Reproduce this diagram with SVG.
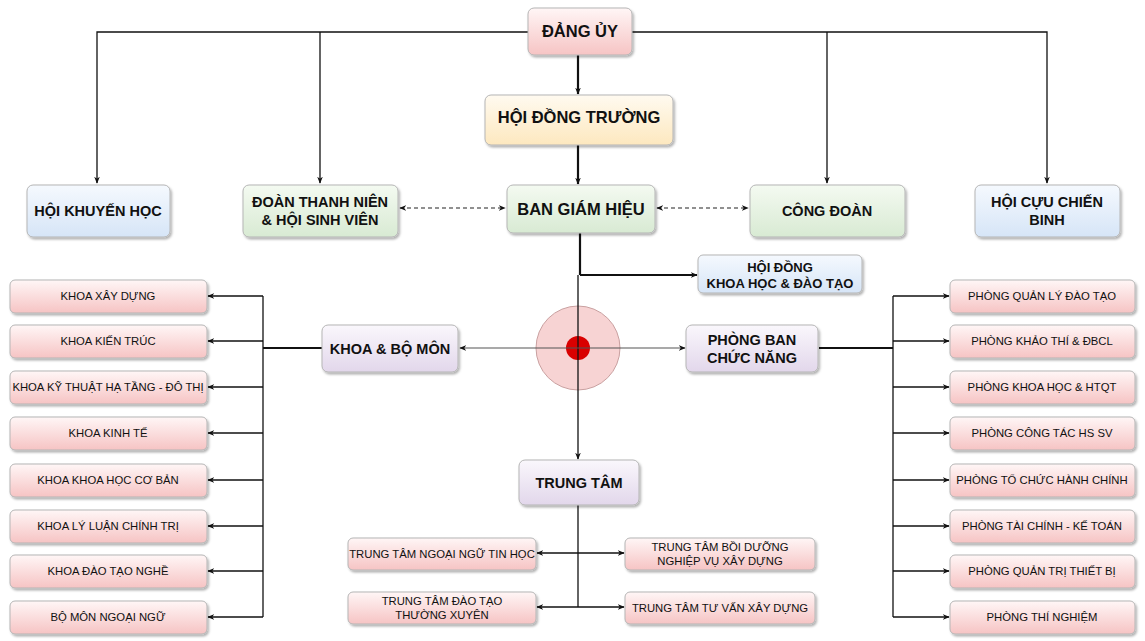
<svg xmlns="http://www.w3.org/2000/svg" width="1145" height="641" viewBox="0 0 1145 641">
<defs>
<linearGradient id="gPink" x1="0" y1="0" x2="0" y2="1"><stop offset="0" stop-color="#fff6f6"/><stop offset="1" stop-color="#f6c4c4"/></linearGradient>
<linearGradient id="gYel" x1="0" y1="0" x2="0" y2="1"><stop offset="0" stop-color="#fffaf0"/><stop offset="1" stop-color="#fde8bf"/></linearGradient>
<linearGradient id="gGrn" x1="0" y1="0" x2="0" y2="1"><stop offset="0" stop-color="#f4faf1"/><stop offset="1" stop-color="#d8ead3"/></linearGradient>
<linearGradient id="gBlu" x1="0" y1="0" x2="0" y2="1"><stop offset="0" stop-color="#f5f9fe"/><stop offset="1" stop-color="#d6e5f7"/></linearGradient>
<linearGradient id="gPur" x1="0" y1="0" x2="0" y2="1"><stop offset="0" stop-color="#faf7fc"/><stop offset="1" stop-color="#e2d7eb"/></linearGradient>
<filter id="sh" x="-10%" y="-10%" width="130%" height="140%"><feDropShadow dx="1.5" dy="2" stdDeviation="1.2" flood-color="#000" flood-opacity="0.3"/></filter>
<marker id="ar" viewBox="0 0 10 10" refX="9" refY="5" markerWidth="7" markerHeight="7" orient="auto-start-reverse" markerUnits="userSpaceOnUse"><path d="M0,1 L10,5 L0,9 L3,5 Z" fill="#111"/></marker>
</defs>
<style>
.box{stroke:#b5b5b5;stroke-width:1;filter:url(#sh)}
.pk{fill:url(#gPink)}.yl{fill:url(#gYel)}.gr{fill:url(#gGrn)}.bl{fill:url(#gBlu)}.pu{fill:url(#gPur)}
text{font-family:"Liberation Sans",Arial,sans-serif;fill:#111;text-anchor:middle;dominant-baseline:central}
.t1{font-size:16.5px;font-weight:bold}
.t2{font-size:14.5px;font-weight:bold}
.t3{font-size:13px;font-weight:bold}
.t4{font-size:11.3px}
.ln{stroke:#111;stroke-width:1.3;fill:none}
.th{stroke:#111;stroke-width:2.2;fill:none}
.gy{stroke:#555;stroke-width:1.2;fill:none}
.ds{stroke:#222;stroke-width:1.2;fill:none;stroke-dasharray:4 3}
</style>
<rect width="1145" height="641" fill="#ffffff"/>
<g id="hub">
<circle cx="578" cy="348" r="42" fill="#f7d3d3" stroke="#c9a0a0" stroke-width="1"/>
<circle cx="578" cy="348" r="12" fill="#d90000"/>
</g>
<g id="connectors">
<path class="ln" d="M528,32 H97 V183" marker-end="url(#ar)"/>
<path class="ln" d="M320,32 V183" marker-end="url(#ar)"/>
<path class="ln" d="M632,32 H1047 V183" marker-end="url(#ar)"/>
<path class="ln" d="M827,32 V183" marker-end="url(#ar)"/>
<path class="th" d="M578,55 V94" marker-end="url(#ar)"/>
<path class="th" d="M578,145 V184" marker-end="url(#ar)"/>
<path class="ds" d="M400,208 H505" marker-start="url(#ar)" marker-end="url(#ar)"/>
<path class="ds" d="M657,208 H748" marker-start="url(#ar)" marker-end="url(#ar)"/>
<path class="th" d="M580,233 V275"/>
<path class="th" d="M580,275 H697" marker-end="url(#ar)"/>
<path class="ln" d="M578,275 V459" marker-end="url(#ar)"/>
<path class="gy" d="M460,348 H685" marker-start="url(#ar)" marker-end="url(#ar)"/>
<path class="th" d="M322,348 H263"/>
<path class="ln" d="M263,296 V617"/>
<path class="ln" d="M263,296 H208" marker-end="url(#ar)"/>
<path class="ln" d="M263,341 H208" marker-end="url(#ar)"/>
<path class="ln" d="M263,387 H208" marker-end="url(#ar)"/>
<path class="ln" d="M263,433 H208" marker-end="url(#ar)"/>
<path class="ln" d="M263,480 H208" marker-end="url(#ar)"/>
<path class="ln" d="M263,526 H208" marker-end="url(#ar)"/>
<path class="ln" d="M263,571 H208" marker-end="url(#ar)"/>
<path class="ln" d="M263,617 H208" marker-end="url(#ar)"/>
<path class="th" d="M819,348 H893"/>
<path class="ln" d="M893,296 V617"/>
<path class="ln" d="M893,296 H949" marker-end="url(#ar)"/>
<path class="ln" d="M893,341 H949" marker-end="url(#ar)"/>
<path class="ln" d="M893,387 H949" marker-end="url(#ar)"/>
<path class="ln" d="M893,433 H949" marker-end="url(#ar)"/>
<path class="ln" d="M893,480 H949" marker-end="url(#ar)"/>
<path class="ln" d="M893,526 H949" marker-end="url(#ar)"/>
<path class="ln" d="M893,571 H949" marker-end="url(#ar)"/>
<path class="ln" d="M893,617 H949" marker-end="url(#ar)"/>
<path class="ln" d="M578,505 V607"/>
<path class="ln" d="M537,553 H624" marker-start="url(#ar)" marker-end="url(#ar)"/>
<path class="ln" d="M537,607 H624" marker-start="url(#ar)" marker-end="url(#ar)"/>
</g>
<g id="dang-uy"><rect class="box pk" x="528" y="8" width="104" height="47" rx="6"/><text class="t1" x="580" y="31">ĐẢNG ỦY</text></g>
<g id="hoi-dong-truong"><rect class="box yl" x="485" y="95" width="188" height="50" rx="6"/><text class="t1" x="579" y="117">HỘI ĐỒNG TRƯỜNG</text></g>
<g id="hoi-khuyen-hoc"><rect class="box bl" x="27" y="185" width="143" height="52" rx="6"/><text class="t2" x="98" y="211">HỘI KHUYẾN HỌC</text></g>
<g id="doan-thanh-nien"><rect class="box gr" x="243" y="185" width="155" height="52" rx="6"/><text class="t2" x="320" y="202">ĐOÀN THANH NIÊN</text><text class="t2" x="320" y="220">&amp; HỘI SINH VIÊN</text></g>
<g id="ban-giam-hieu"><rect class="box gr" x="507" y="185" width="148" height="48" rx="6"/><text class="t1" x="581" y="209">BAN GIÁM HIỆU</text></g>
<g id="cong-doan"><rect class="box gr" x="750" y="185" width="155" height="52" rx="6"/><text class="t2" x="827" y="211">CÔNG ĐOÀN</text></g>
<g id="hoi-cuu-chien-binh"><rect class="box bl" x="975" y="185" width="145" height="52" rx="6"/><text class="t2" x="1047" y="202">HỘI CỰU CHIẾN</text><text class="t2" x="1047" y="220">BINH</text></g>
<g id="hoi-dong-khdt"><rect class="box bl" x="698" y="255" width="164" height="38" rx="5"/><text class="t3" x="780" y="267">HỘI ĐỒNG</text><text class="t3" x="780" y="283">KHOA HỌC &amp; ĐÀO TẠO</text></g>
<g id="khoa-bo-mon"><rect class="box pu" x="322" y="325" width="136" height="47" rx="6"/><text class="t2" x="390" y="349">KHOA &amp; BỘ MÔN</text></g>
<g id="phong-ban"><rect class="box pu" x="686" y="325" width="132" height="47" rx="6"/><text class="t2" x="752" y="340">PHÒNG BAN</text><text class="t2" x="752" y="358">CHỨC NĂNG</text></g>
<g id="trung-tam"><rect class="box pu" x="519" y="460" width="120" height="45" rx="6"/><text class="t2" x="579" y="483">TRUNG TÂM</text></g>
<g id="k1"><rect class="box pk" x="10" y="280" width="197" height="33" rx="5"/><text class="t4" x="108" y="296">KHOA XÂY DỰNG</text></g>
<g id="k2"><rect class="box pk" x="10" y="325" width="197" height="33" rx="5"/><text class="t4" x="108" y="341">KHOA KIẾN TRÚC</text></g>
<g id="k3"><rect class="box pk" x="10" y="371" width="197" height="33" rx="5"/><text class="t4" x="108" y="387">KHOA KỸ THUẬT HẠ TẦNG - ĐÔ THỊ</text></g>
<g id="k4"><rect class="box pk" x="10" y="417" width="197" height="33" rx="5"/><text class="t4" x="108" y="433">KHOA KINH TẾ</text></g>
<g id="k5"><rect class="box pk" x="10" y="464" width="197" height="33" rx="5"/><text class="t4" x="108" y="480">KHOA KHOA HỌC CƠ BẢN</text></g>
<g id="k6"><rect class="box pk" x="10" y="510" width="197" height="33" rx="5"/><text class="t4" x="108" y="526">KHOA LÝ LUẬN CHÍNH TRỊ</text></g>
<g id="k7"><rect class="box pk" x="10" y="555" width="197" height="33" rx="5"/><text class="t4" x="108" y="571">KHOA ĐÀO TẠO NGHỀ</text></g>
<g id="k8"><rect class="box pk" x="10" y="601" width="197" height="33" rx="5"/><text class="t4" x="108" y="617">BỘ MÔN NGOẠI NGỮ</text></g>
<g id="p1"><rect class="box pk" x="950" y="280" width="185" height="33" rx="5"/><text class="t4" x="1042" y="296">PHÒNG QUẢN LÝ ĐÀO TẠO</text></g>
<g id="p2"><rect class="box pk" x="950" y="325" width="185" height="33" rx="5"/><text class="t4" x="1042" y="341">PHÒNG KHẢO THÍ &amp; ĐBCL</text></g>
<g id="p3"><rect class="box pk" x="950" y="371" width="185" height="33" rx="5"/><text class="t4" x="1042" y="387">PHÒNG KHOA HỌC &amp; HTQT</text></g>
<g id="p4"><rect class="box pk" x="950" y="417" width="185" height="33" rx="5"/><text class="t4" x="1042" y="433">PHÒNG CÔNG TÁC HS SV</text></g>
<g id="p5"><rect class="box pk" x="950" y="464" width="185" height="33" rx="5"/><text class="t4" x="1042" y="480">PHÒNG TỔ CHỨC HÀNH CHÍNH</text></g>
<g id="p6"><rect class="box pk" x="950" y="510" width="185" height="33" rx="5"/><text class="t4" x="1042" y="526">PHÒNG TÀI CHÍNH - KẾ TOÁN</text></g>
<g id="p7"><rect class="box pk" x="950" y="555" width="185" height="33" rx="5"/><text class="t4" x="1042" y="571">PHÒNG QUẢN TRỊ THIẾT BỊ</text></g>
<g id="p8"><rect class="box pk" x="950" y="601" width="185" height="33" rx="5"/><text class="t4" x="1042" y="617">PHÒNG THÍ NGHIỆM</text></g>
<g id="tt1"><rect class="box pk" x="348" y="538" width="188" height="32" rx="5"/><text class="t4" x="442" y="554">TRUNG TÂM NGOẠI NGỮ TIN HỌC</text></g>
<g id="tt2"><rect class="box pk" x="625" y="538" width="190" height="32" rx="5"/><text class="t4" x="720" y="547">TRUNG TÂM BỒI DƯỠNG</text><text class="t4" x="720" y="561">NGHIỆP VỤ XÂY DỰNG</text></g>
<g id="tt3"><rect class="box pk" x="348" y="592" width="188" height="32" rx="5"/><text class="t4" x="442" y="601">TRUNG TÂM ĐÀO TẠO</text><text class="t4" x="442" y="615">THƯỜNG XUYÊN</text></g>
<g id="tt4"><rect class="box pk" x="625" y="592" width="190" height="32" rx="5"/><text class="t4" x="720" y="608">TRUNG TÂM TƯ VẤN XÂY DỰNG</text></g>
</svg>
